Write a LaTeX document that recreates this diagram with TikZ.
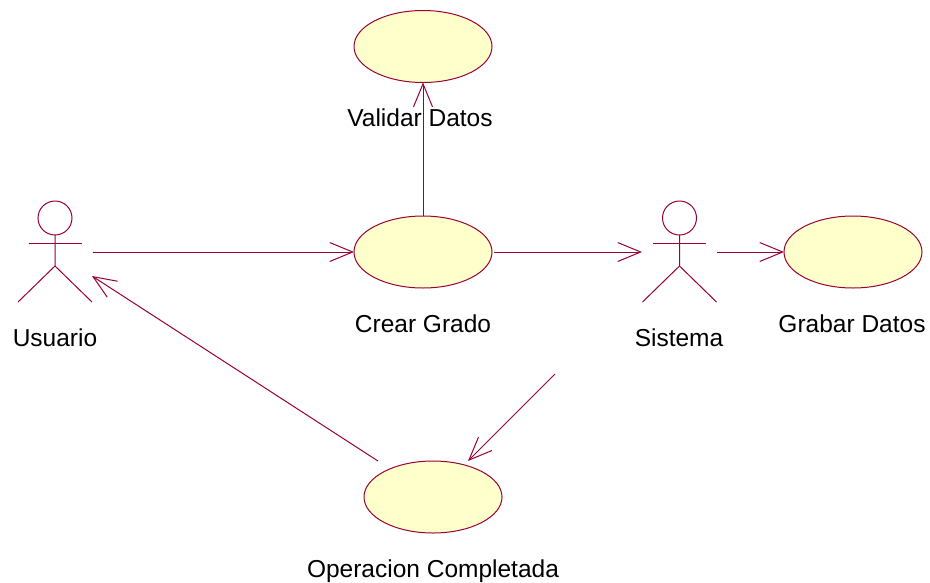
\documentclass[tikz,border=0pt]{standalone}
\usepackage{fontspec}
\setmainfont{Liberation Sans}
\usepackage{tikz}
\usetikzlibrary{arrows.meta,shapes.geometric}
\definecolor{umlline}{HTML}{990033}
\definecolor{umlfill}{HTML}{FFFFCC}

\begin{document}
\begin{tikzpicture}[x=1pt,y=-1pt,line width=1pt]
            \useasboundingbox (0,0) rectangle (930,582);

            \begin{scope}[every node/.style={ellipse,draw=umlline,fill=umlfill,inner sep=0,outer sep=0,minimum width=138pt,minimum height=72pt}]
                \node (validar) at (423,46.5) {};
                \node (crear) at (423,252) {};
                \node (grabar) at (853,252) {};
                \node (operacion) at (433,497) {};
            \end{scope}

            \begin{scope}[every node/.style={inner sep=0,outer sep=0,minimum width=75pt,minimum height=101pt}]
                \node (usuario) at (55,252) {};
                \node (sistema) at (679.5,252) {};
            \end{scope}

            \begin{scope}[every node/.style={circle,draw=umlline,inner sep=0,outer sep=0,minimum size=34pt}]
                \node (usuariohead) at (55,218) {};
                \node (sistemahead) at (679.5,218) {};
            \end{scope}

            \begin{scope}[draw=umlline]
                \draw (usuariohead.south) -- (55,266) -- (18,302);
                \draw (55,266) -- (92,302);
                \draw (28.5,243) -- (82,243);
                \draw (sistemahead.south) -- (679.5,266) -- (642.5,302);
                \draw (679.5,266) -- (716.5,302);
                \draw (653,243) -- (706,243);
            \end{scope}

            \begin{scope}[every node/.style={font=\fontsize{24.5}{30}\selectfont,inner sep=0,anchor=base}]
                \node (usuariotext) at (55,346) {Usuario};
                \node (sistematext) at (679,346) {Sistema};
                \node (validartext) at (420,126) {Validar Datos};
                \node (creartext) at (423,332) {Crear Grado};
                \node (grabartext) at (852,332) {Grabar Datos};
                \node (operaciontext) at (433,577) {Operacion Completada};
            \end{scope}

            \coordinate (usuarioin) at (92,276);
            \coordinate (operacionout) at (378,461);
            \coordinate (operacionin) at (468,461);
            \coordinate (crearout) at (555,374);

            \begin{scope}[>={Straight Barb[length=23pt,width=19pt]},draw=umlline]
                \draw [->] (usuario.east) -- (crear.west);
                \draw [->,shorten <=2pt] (crear.east) -- (sistema.west);
                \draw [->] (sistema.east) -- (grabar.west);
                \draw [->] (crear.north) -- (validar.south);
                \draw [->] (crearout) -- (operacionin);
                \draw [->] (operacionout) -- (usuarioin);
            \end{scope}
\end{tikzpicture}
\end{document}
